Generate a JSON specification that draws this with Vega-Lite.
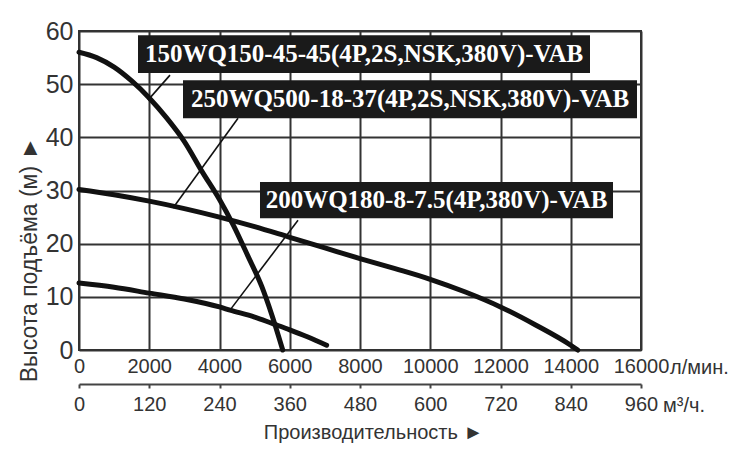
{
  "$schema": "https://vega.github.io/schema/vega-lite/v6.json",
  "width": 562,
  "height": 319,
  "autosize": "none",
  "padding": {"left": 79, "top": 31, "right": 96, "bottom": 110},
  "background": "white",
  "config": {
    "view": {"stroke": "#333", "strokeWidth": 2},
    "font": "Liberation Sans"
  },
  "datasets": {
    "curves": [
      {"model": "150WQ150-45-45", "flow": 0, "head": 56},
      {"model": "150WQ150-45-45", "flow": 500, "head": 55},
      {"model": "150WQ150-45-45", "flow": 1000, "head": 53.2},
      {"model": "150WQ150-45-45", "flow": 1500, "head": 50.6},
      {"model": "150WQ150-45-45", "flow": 2000, "head": 47.4},
      {"model": "150WQ150-45-45", "flow": 2500, "head": 43.6},
      {"model": "150WQ150-45-45", "flow": 3000, "head": 39.2},
      {"model": "150WQ150-45-45", "flow": 3500, "head": 33.6},
      {"model": "150WQ150-45-45", "flow": 4000, "head": 28.3},
      {"model": "150WQ150-45-45", "flow": 4400, "head": 23.4},
      {"model": "150WQ150-45-45", "flow": 4800, "head": 17.8},
      {"model": "150WQ150-45-45", "flow": 5200, "head": 12.0},
      {"model": "150WQ150-45-45", "flow": 5500, "head": 6.4},
      {"model": "150WQ150-45-45", "flow": 5800, "head": 0},
      {"model": "250WQ500-18-37", "flow": 0, "head": 30.2},
      {"model": "250WQ500-18-37", "flow": 1000, "head": 29.2},
      {"model": "250WQ500-18-37", "flow": 2000, "head": 28.0},
      {"model": "250WQ500-18-37", "flow": 3000, "head": 26.6},
      {"model": "250WQ500-18-37", "flow": 4000, "head": 25.0},
      {"model": "250WQ500-18-37", "flow": 5000, "head": 23.2},
      {"model": "250WQ500-18-37", "flow": 6000, "head": 21.2},
      {"model": "250WQ500-18-37", "flow": 7000, "head": 19.2},
      {"model": "250WQ500-18-37", "flow": 8000, "head": 17.2},
      {"model": "250WQ500-18-37", "flow": 9000, "head": 15.3},
      {"model": "250WQ500-18-37", "flow": 10000, "head": 13.3},
      {"model": "250WQ500-18-37", "flow": 11000, "head": 10.9},
      {"model": "250WQ500-18-37", "flow": 12000, "head": 8.1},
      {"model": "250WQ500-18-37", "flow": 13000, "head": 4.7},
      {"model": "250WQ500-18-37", "flow": 14000, "head": 0.9},
      {"model": "250WQ500-18-37", "flow": 14200, "head": 0},
      {"model": "200WQ180-8-7.5", "flow": 0, "head": 12.6},
      {"model": "200WQ180-8-7.5", "flow": 1000, "head": 11.8},
      {"model": "200WQ180-8-7.5", "flow": 2000, "head": 10.7},
      {"model": "200WQ180-8-7.5", "flow": 3000, "head": 9.6},
      {"model": "200WQ180-8-7.5", "flow": 4000, "head": 8.1},
      {"model": "200WQ180-8-7.5", "flow": 4300, "head": 7.5},
      {"model": "200WQ180-8-7.5", "flow": 5000, "head": 6.2},
      {"model": "200WQ180-8-7.5", "flow": 5500, "head": 5.0},
      {"model": "200WQ180-8-7.5", "flow": 6000, "head": 3.8},
      {"model": "200WQ180-8-7.5", "flow": 6500, "head": 2.5},
      {"model": "200WQ180-8-7.5", "flow": 7050, "head": 0.9}
    ],
    "labels": [
      {"text": "150WQ150-45-45(4P,2S,NSK,380V)-VAB", "x1": 1680, "x2": 14548, "y1": 52.1, "y2": 59.2, "xc": 8114, "yc": 55.6, "lx1": 2591, "ly1": 51.7, "lx2": 1964, "ly2": 47.0},
      {"text": "250WQ500-18-37(4P,2S,NSK,380V)-VAB", "x1": 2961, "x2": 15886, "y1": 43.6, "y2": 50.75, "xc": 9424, "yc": 47.2, "lx1": 4527, "ly1": 43.6, "lx2": 2676, "ly2": 26.7},
      {"text": "200WQ180-8-7.5(4P,380V)-VAB", "x1": 5153, "x2": 15203, "y1": 24.8, "y2": 31.6, "xc": 10178, "yc": 28.2, "lx1": 6235, "ly1": 24.4, "lx2": 4299, "ly2": 7.5}
    ]
  },
  "layer": [
    {
      "layer": [
        {
          "data": {"name": "curves"},
          "mark": {"type": "line", "color": "#111", "strokeWidth": 5, "strokeCap": "round", "interpolate": "monotone"},
          "encoding": {
            "x": {
              "field": "flow",
              "type": "quantitative",
              "scale": {"domain": [0, 16000], "nice": false},
              "axis": {
                "values": [0, 2000, 4000, 6000, 8000, 10000, 12000, 14000, 16000],
                "format": "d",
                "grid": true,
                "gridColor": "#333",
                "gridWidth": 2,
                "gridOpacity": 1,
                "domain": false,
                "ticks": false,
                "labelFont": "Liberation Sans",
                "labelFontSize": 20,
                "labelColor": "#333",
                "labelPadding": 6,
                "labelFlush": false,
                "labelOverlap": false,
                "title": null
              }
            },
            "y": {
              "field": "head",
              "type": "quantitative",
              "scale": {"domain": [0, 60], "nice": false},
              "axis": {
                "values": [0, 10, 20, 30, 40, 50, 60],
                "grid": true,
                "gridColor": "#333",
                "gridWidth": 2,
                "gridOpacity": 1,
                "domain": false,
                "ticks": false,
                "labelFont": "Liberation Sans",
                "labelFontSize": 25,
                "labelColor": "#333",
                "labelPadding": 6,
                "labelFlush": false,
                "labelOverlap": false,
                "title": "Высота подъёма (м) ►",
                "titleFont": "Liberation Sans",
                "titleFontSize": 23,
                "titleFontWeight": "normal",
                "titleColor": "#333",
                "titleX": -50,
                "titleY": 228,
                "titleBaseline": "middle",
                "titleAlign": "center"
              }
            },
            "detail": {"field": "model"}
          }
        },
        {
          "data": {"name": "labels"},
          "mark": {"type": "rule", "color": "#111", "strokeWidth": 1.6},
          "encoding": {
            "x": {"field": "lx1", "type": "quantitative"},
            "y": {"field": "ly1", "type": "quantitative"},
            "x2": {"field": "lx2"},
            "y2": {"field": "ly2"}
          }
        },
        {
          "data": {"name": "labels"},
          "mark": {"type": "rect", "color": "#1a1a1a"},
          "encoding": {
            "x": {"field": "x1", "type": "quantitative"},
            "x2": {"field": "x2"},
            "y": {"field": "y1", "type": "quantitative"},
            "y2": {"field": "y2"}
          }
        },
        {
          "data": {"name": "labels"},
          "mark": {"type": "text", "color": "white", "font": "Liberation Serif", "fontWeight": "bold", "fontSize": 25, "align": "center", "baseline": "middle"},
          "encoding": {
            "x": {"field": "xc", "type": "quantitative"},
            "y": {"field": "yc", "type": "quantitative"},
            "text": {"field": "text"}
          }
        },
        {
          "data": {"values": [{"flow": 16000, "head": 0, "unit": "л/мин."}]},
          "mark": {"type": "text", "align": "left", "baseline": "middle", "dx": 29, "dy": 18, "font": "Liberation Sans", "fontSize": 20, "color": "#333"},
          "encoding": {
            "x": {"field": "flow", "type": "quantitative"},
            "y": {"field": "head", "type": "quantitative"},
            "text": {"field": "unit"}
          }
        }
      ]
    },
    {
      "data": {"values": [{"q": 960, "head": 0, "unit": "м³/ч."}]},
      "mark": {"type": "text", "align": "left", "baseline": "middle", "dx": 22, "dy": 56, "font": "Liberation Sans", "fontSize": 20, "color": "#333"},
      "encoding": {
        "x": {
          "field": "q",
          "type": "quantitative",
          "scale": {"domain": [0, 960], "nice": false},
          "axis": {
            "orient": "bottom",
            "offset": 34,
            "values": [0, 120, 240, 360, 480, 600, 720, 840, 960],
            "grid": false,
            "domain": true,
            "domainColor": "#444",
            "domainWidth": 2,
            "ticks": true,
            "tickColor": "#444",
            "tickWidth": 2,
            "tickSize": 4,
            "labelFont": "Liberation Sans",
            "labelFontSize": 20,
            "labelColor": "#333",
            "labelPadding": 6,
            "labelFlush": false,
            "labelOverlap": false,
            "title": "Производительность ►",
            "titleFont": "Liberation Sans",
            "titleFontSize": 20,
            "titleFontWeight": "normal",
            "titleColor": "#333",
            "titlePadding": 8,
            "titleX": 294
          }
        },
        "y": {"field": "head", "type": "quantitative"},
        "text": {"field": "unit"}
      }
    }
  ],
  "resolve": {"scale": {"x": "independent"}, "axis": {"x": "independent"}}
}
